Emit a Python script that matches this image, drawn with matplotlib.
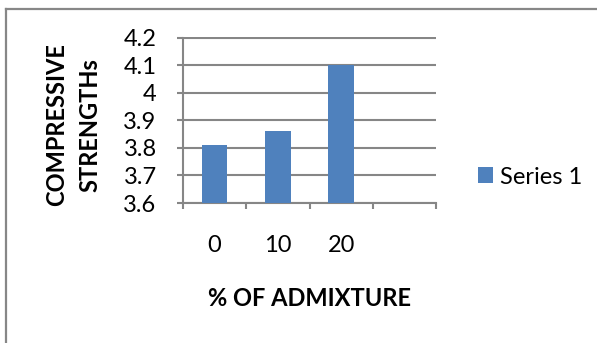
import matplotlib
matplotlib.use("Agg")
import matplotlib.pyplot as plt
from matplotlib.lines import Line2D

# ---------- data ----------
categories = ["0", "10", "20"]
strengths = [3.81, 3.86, 4.1]
n_slots = 4          # chart keeps one empty category slot on the right
y_ticks = [3.6, 3.7, 3.8, 3.9, 4.0, 4.1, 4.2]
y_tick_labels = ["3.6", "3.7", "3.8", "3.9", "4", "4.1", "4.2"]
series_name = "Series 1"

bar_color = "#4F81BD"
grid_color = "#868686"
fs = 17

plt.rcParams["font.family"] = ["Lato", "DejaVu Sans"]

W, H = 597, 343
fig = plt.figure(figsize=(W / 100, H / 100), dpi=100)
ax = fig.add_axes([183 / W, 1 - 203 / H, (436 - 183) / W, (203 - 37.5) / H])

idx = list(range(len(categories)))
ax.bar(idx, strengths, width=0.4, color=bar_color, zorder=3, label=series_name)

ax.set_xlim(-0.5, n_slots - 0.5)
ax.set_ylim(y_ticks[0], y_ticks[-1])
ax.set_yticks(y_ticks)
ax.set_yticklabels(y_tick_labels)
ax.yaxis.grid(True, color=grid_color, linewidth=1.5, zorder=0)

# category boundaries carry the tick marks, labels sit at the centres
ax.set_xticks([i - 0.5 for i in range(n_slots + 1)])
ax.set_xticklabels([])
ax.set_xticks(idx, minor=True)
ax.set_xticklabels(categories, minor=True)
ax.tick_params(axis="x", which="major", length=4, width=1.5, color=grid_color)
ax.tick_params(axis="x", which="minor", length=0, pad=23, labelsize=fs)
ax.tick_params(axis="y", length=4, width=1.5, color=grid_color, pad=15, labelsize=fs)

for s in ["top", "right"]:
    ax.spines[s].set_visible(False)
for s in ["left", "bottom"]:
    ax.spines[s].set_color(grid_color)
    ax.spines[s].set_linewidth(1.5)

fig.text(73 / W, 1 - 125 / H, "COMPRESSIVE\nSTRENGTHs", rotation=90,
         ha="center", va="center", fontsize=fs, fontweight="bold", linespacing=1.55)
fig.text(309 / W, 1 - 298 / H, "% OF ADMIXTURE", ha="center", va="center",
         fontsize=fs, fontweight="bold")

fig.legend(loc="center left", bbox_to_anchor=(478 / W, 1 - 177 / H), frameon=False,
           fontsize=fs, borderpad=0, borderaxespad=0, handlelength=0.64,
           handleheight=0.64, handletextpad=0.3)

# chart frame (only left and top edges show in the crop)
fig.add_artist(Line2D([6 / W, 6 / W], [0, 1 - 9 / H], transform=fig.transFigure,
                      color="#878787", linewidth=1.6))
fig.add_artist(Line2D([6 / W, 1], [1 - 9 / H, 1 - 9 / H], transform=fig.transFigure,
                      color="#878787", linewidth=1.6))

fig.savefig("out.png", dpi=100)
